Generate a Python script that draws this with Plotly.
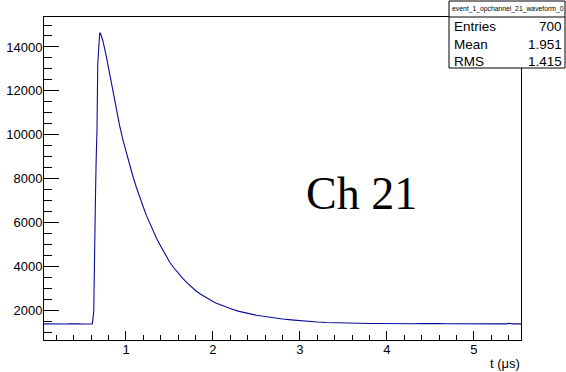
import plotly.graph_objects as go

# waveform samples (t in microseconds, ADC counts)
t_us = [0.057, 0.10, 0.15, 0.20, 0.25, 0.30, 0.35, 0.40, 0.45, 0.50, 0.55, 0.60, 0.613,
        0.629, 0.636, 0.648, 0.656, 0.667, 0.675, 0.686, 0.698, 0.709, 0.736, 0.775,
        0.813, 0.851, 0.890, 0.928, 0.966, 1.005, 1.043, 1.080, 1.12, 1.157, 1.20,
        1.234, 1.274, 1.31, 1.35, 1.387, 1.43, 1.464, 1.50, 1.54, 1.58, 1.617, 1.655,
        1.70, 1.75, 1.80, 1.85, 1.90, 1.95, 2.00, 2.04, 2.10, 2.16, 2.23, 2.30, 2.36,
        2.42, 2.50, 2.56, 2.61, 2.70, 2.80, 2.90, 3.00, 3.10, 3.20, 3.30, 3.40, 3.50,
        3.60, 3.70, 3.80, 3.90, 4.00, 4.10, 4.20, 4.30, 4.40, 4.50, 4.60, 4.70, 4.80,
        4.90, 5.00, 5.10, 5.20, 5.30, 5.38, 5.40, 5.45, 5.50, 5.543]
counts = [1390, 1385, 1395, 1380, 1390, 1385, 1395, 1380, 1390, 1385, 1390, 1385, 1390,
          1940, 4990, 6940, 8680, 10330, 13210, 14300, 14650, 14600, 14250, 13550,
          12750, 11950, 11150, 10400, 9750, 9150, 8600, 8100, 7600, 7150, 6700,
          6330, 5950, 5630, 5300, 5020, 4720, 4440, 4220, 3990, 3790, 3620, 3450,
          3270, 3080, 2910, 2760, 2630, 2520, 2410, 2330, 2230, 2140, 2040, 1960, 1900,
          1845, 1785, 1745, 1710, 1660, 1610, 1570, 1530, 1500, 1475, 1455, 1440, 1428,
          1418, 1410, 1405, 1408, 1398, 1392, 1402, 1393, 1406, 1390, 1402, 1396, 1390,
          1399, 1390, 1392, 1388, 1390, 1390, 1420, 1390, 1390, 1390]

x_range = [0.057, 5.543]
y_range = [655, 15365]

stats_title = "event_1_opchannel_21_waveform_0"
stats_names = ["Entries", "Mean", "RMS"]
stats_values = ["700", "1.951", "1.415"]
label_text = "Ch 21"
x_title = "t (\u03bcs)"

W, H = 566, 372
L, R, T, B = 44, 45, 17, 32
pw, ph = W - L - R, H - T - B

def px(x):
    return (x - L) / pw

def py(y):
    return (H - B - y) / ph

fig = go.Figure()
fig.add_trace(go.Scatter(x=t_us, y=counts, mode="lines",
                         line=dict(color="#0a0a9c", width=1.1), hoverinfo="skip",
                         showlegend=False))

font = "Liberation Sans, Arial, Helvetica, sans-serif"

fig.update_layout(
    width=W, height=H,
    margin=dict(l=L, r=R, t=T, b=B, pad=0, autoexpand=False),
    paper_bgcolor="white", plot_bgcolor="white",
    font=dict(family=font, size=13, color="black"),
    showlegend=False,
    xaxis=dict(range=x_range, showgrid=False, zeroline=False, automargin=False,
               showline=True, mirror=True, linecolor="black", linewidth=1,
               ticks="inside", ticklen=9, tickwidth=1, tickcolor="black",
               tick0=0, dtick=1, tickfont=dict(size=13), ticklabelstandoff=-3,
               minor=dict(ticks="inside", ticklen=5, tickwidth=1, tickcolor="black",
                          dtick=0.2, tick0=0, showgrid=False)),
    yaxis=dict(range=y_range, showgrid=False, zeroline=False, automargin=False,
               showline=True, mirror=True, linecolor="black", linewidth=1,
               ticks="inside", ticklen=15, tickwidth=1, tickcolor="black",
               tick0=0, dtick=2000, tickformat="d", tickfont=dict(size=13),
               ticklabelstandoff=-2,
               minor=dict(ticks="inside", ticklen=8, tickwidth=1, tickcolor="black",
                          dtick=500, tick0=0, showgrid=False)),
)

# stats box
fig.add_shape(type="rect", xref="paper", yref="paper",
              x0=px(449), x1=px(565), y0=py(68), y1=py(1),
              line=dict(color="black", width=1), fillcolor="white", layer="above")
fig.add_shape(type="line", xref="paper", yref="paper",
              x0=px(449), x1=px(565), y0=py(17), y1=py(17),
              line=dict(color="black", width=1), layer="above")
fig.add_annotation(xref="paper", yref="paper", x=px(508), y=py(9.5),
                   text=stats_title, showarrow=False, xanchor="center", yanchor="middle",
                   font=dict(size=6.8, family=font))
rows_y = [26.7, 44.3, 61.7]
for name, val, ry in zip(stats_names, stats_values, rows_y):
    fig.add_annotation(xref="paper", yref="paper", x=px(452), y=py(ry),
                       text=name, showarrow=False, xanchor="left", yanchor="middle",
                       font=dict(size=13.5, family=font))
    fig.add_annotation(xref="paper", yref="paper", x=px(563.5), y=py(ry),
                       text=val, showarrow=False, xanchor="right", yanchor="middle",
                       font=dict(size=13.5, family=font))

# channel label
fig.add_annotation(xref="paper", yref="paper", x=px(361), y=py(193),
                   text=label_text, showarrow=False, xanchor="center", yanchor="middle",
                   font=dict(size=46, family="Liberation Serif, Times New Roman, serif"))

# x axis title
fig.add_annotation(xref="paper", yref="paper", x=px(522), y=py(363),
                   text=x_title, showarrow=False, xanchor="right", yanchor="middle",
                   font=dict(size=13, family=font))

fig.write_html("out.html")
